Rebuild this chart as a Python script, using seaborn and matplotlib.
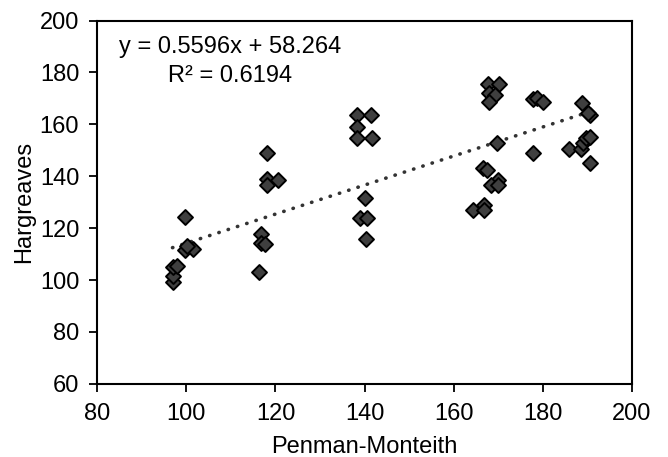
import numpy as np
import pandas as pd
import matplotlib
matplotlib.use("Agg")
import matplotlib.pyplot as plt
import seaborn as sns

# Penman-Monteith vs Hargreaves values
pm = [96.9, 96.9, 96.9, 98.0, 99.6, 99.6, 101.4, 100.2,
      116.4, 116.7, 116.7, 117.6, 118.0, 118.0, 120.5, 118.0,
      138.2, 141.4, 138.2, 138.2, 141.6, 140.0, 138.9, 140.5, 140.3,
      167.6, 170.1, 167.9, 169.2, 167.9, 169.7, 166.5, 167.5, 169.9, 168.3, 169.9,
      164.3, 166.7, 166.7,
      177.7, 178.6, 180.1, 177.7, 188.7, 190.6, 190.2, 185.9, 188.5, 189.0,
      189.8, 190.7, 190.7]
harg = [99.1, 101.4, 104.9, 105.3, 124.2, 111.5, 111.8, 113.0,
        103.0, 117.6, 114.1, 113.8, 148.9, 138.9, 138.5, 136.6,
        163.6, 163.6, 159.0, 154.7, 154.7, 131.5, 124.1, 124.1, 116.0,
        175.6, 175.6, 172.0, 171.3, 168.6, 152.8, 143.1, 142.5, 138.5, 136.6, 136.6,
        126.9, 128.8, 126.9,
        169.7, 170.0, 168.7, 149.0, 168.1, 163.6, 164.2, 150.7, 150.7, 152.7,
        154.6, 155.0, 145.2]

slope = 0.5596
intercept = 58.264
r2 = 0.6194

data = pd.DataFrame({"Penman-Monteith": pm, "Hargreaves": harg})

sns.set_style("white")
plt.rcParams["font.family"] = ["Liberation Sans", "DejaVu Sans"]
plt.rcParams["text.color"] = "black"
plt.rcParams["axes.labelcolor"] = "black"

fs = 17

fig = plt.figure(figsize=(6.68, 4.57), dpi=100)
ax = fig.add_axes([0.1455, 0.16, 0.8005, 0.795])

# trend line
xs = np.array([min(pm), max(pm)])
ax.plot(xs, slope * xs + intercept, color="#333333", lw=2.6,
        linestyle=(0, (0.1, 2.6)), dash_capstyle="round", zorder=1)

sns.scatterplot(data=data, x="Penman-Monteith", y="Hargreaves", ax=ax,
                marker="D", s=58, color="#3f3f3f", edgecolor="black",
                linewidth=1.4, zorder=2)

ax.set_xlim(80, 200)
ax.set_ylim(60, 200)
ax.set_xticks(range(80, 201, 20))
ax.set_yticks(range(60, 201, 20))
ax.tick_params(axis="both", direction="out", length=6, width=1.3,
               labelsize=fs, colors="black", bottom=True, left=True)
ax.tick_params(axis="y", pad=7)
ax.tick_params(axis="x", pad=8)
ax.set_xlabel("Penman-Monteith", fontsize=fs, labelpad=8)
ax.set_ylabel("Hargreaves", fontsize=fs, labelpad=3)
for sp in ax.spines.values():
    sp.set_color("black")
    sp.set_linewidth(1.5)

ax.text(109.9, 184.2, f"y = {slope}x + {intercept}\nR² = {r2}",
        ha="center", va="center", fontsize=fs, linespacing=1.45)

fig.savefig("out.png", dpi=100)
